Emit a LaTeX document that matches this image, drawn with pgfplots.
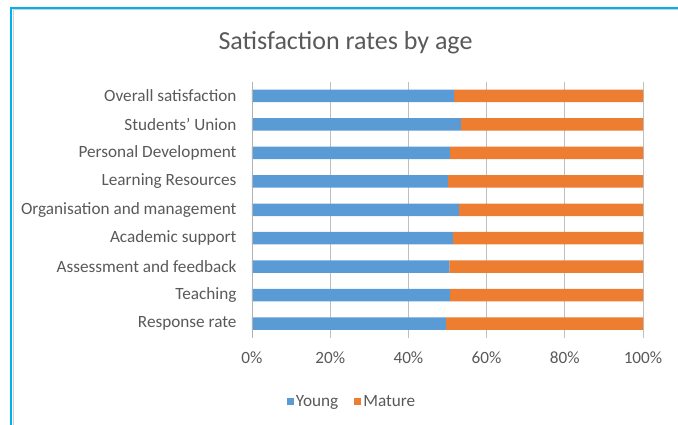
\documentclass[border=0pt]{standalone}
\usepackage{pgfplots}
\pgfplotsset{compat=1.18}
\usepackage{fontspec}
\setmainfont{Carlito}
\definecolor{young}{HTML}{5B9BD5}
\definecolor{mature}{HTML}{ED7D31}
\definecolor{txt}{HTML}{595959}
\definecolor{grid}{HTML}{D9D9D9}
\definecolor{frameblue}{HTML}{00B0F0}
\begin{document}
\begin{tikzpicture}[x=1pt,y=1pt]
\path[use as bounding box] (0,0) rectangle (678,425);
\draw[frameblue, line width=2pt] (11,0) -- (11,417) -- (678,417);
\draw[black!18, line width=1pt] (13,0) -- (13,415) -- (678,415);
\node[font=\fontsize{26}{30}\selectfont, text=txt] at (345.5,382) {Satisfaction rates by age};
\begin{axis}[
  at={(252pt,87pt)}, anchor=south west,
  scale only axis, width=391pt, height=256.5pt,
  xbar stacked, bar width=12.5pt,
  xmin=0, xmax=100, ymin=-0.5, ymax=8.5,
  xtick={0,20,40,60,80,100},
  xticklabels={0\%,20\%,40\%,60\%,80\%,100\%},
  ytick={0,1,2,3,4,5,6,7,8},
  yticklabels={Response rate,Teaching,Assessment and feedback,Academic support,Organisation and management,Learning Resources,Personal Development,Students’ Union,Overall satisfaction},
  major tick length=0pt,
  axis line style={draw=none},
  xmajorgrids, grid style={grid, line width=0.8pt},
  tick label style={font=\fontsize{17.2}{20}\selectfont, text=txt},
  xticklabel style={yshift=-10pt},
  yticklabel style={xshift=-12pt},
  legend columns=2,
  legend style={at={(rel axis cs:0.256,0)}, yshift=-64pt, anchor=center, draw=none, fill=none,
    font=\fontsize{17.2}{20}\selectfont, text=txt,
    /tikz/every even column/.append style={column sep=14pt}},
  legend image code/.code={\fill[#1] (0pt,-3.5pt) rectangle (7pt,3.5pt);},
]
\draw[black!30, line width=0.8pt] (axis cs:0,-0.5) -- (axis cs:0,8.5);
\addplot[fill=young, draw=none] coordinates {(49.6,0) (50.6,1) (50.5,2) (51.4,3) (52.9,4) (50.1,5) (50.6,6) (53.4,7) (51.7,8)};
\addplot[fill=mature, draw=none] coordinates {(50.4,0) (49.4,1) (49.5,2) (48.6,3) (47.1,4) (49.9,5) (49.4,6) (46.6,7) (48.3,8)};
\legend{Young,Mature}
\end{axis}
\end{tikzpicture}
\end{document}
